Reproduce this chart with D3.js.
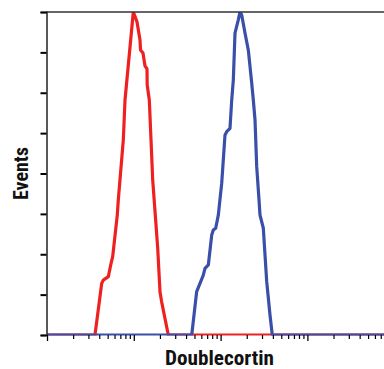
<!DOCTYPE html>
<html><head><meta charset="utf-8">
<script src="https://cdn.jsdelivr.net/npm/d3@7"></script>
<style>html,body{margin:0;padding:0;background:#fff;}svg{display:block;}</style>
</head><body>
<script>
// Fluorescence (log scale) and event counts
const redX = [1, 3.57, 4.27, 4.45, 5.09, 5.42, 5.71, 6.45, 6.63, 7.57, 7.92, 9.87, 10.89, 11.79, 11.95, 12.76, 13.46, 14.19, 14.27, 15.09, 15.79, 16.51, 17.78, 18.85, 20.04, 20.96, 24.98, 10000];
const redY = [0, 0, 25.6, 27.2, 28.9, 34.7, 38.8, 59.4, 66.9, 96.6, 116.4, 160, 155.1, 146.1, 141.2, 139.7, 133.3, 131.8, 123.8, 116.4, 96.6, 76.8, 58, 43.1, 21.3, 16.3, 0, 0];
const blueX = [1, 46.5, 53.0, 57.9, 63.2, 66.1, 72.2, 79.0, 82.4, 87.8, 94.1, 103.0, 112.4, 117.6, 128.3, 134.3, 140.1, 146.5, 159.9, 167.3, 175.0, 191.0, 208.5, 228.3, 238.2, 249.2, 260.6, 277.0, 284.4, 310.4, 339.8, 370.8, 394.0, 10000];
const blueY = [0, 0, 21.5, 25.6, 29.7, 33.0, 34.7, 49.5, 52.0, 52.9, 59.4, 75.2, 99.1, 100.7, 102.4, 116.4, 126.3, 149.5, 156.1, 160, 158.5, 149.6, 141.2, 124.8, 116.4, 106.5, 83.4, 66.9, 59.4, 53.0, 26.4, 9.9, 0, 0];
const majorTicks = [1, 10, 100, 1000, 10000];
const yTicks = [0, 20, 40, 60, 80, 100, 120, 140, 160];
const xTitle = "Doublecortin";
const yTitle = "Events";

const W = 384, H = 369;
const svg = d3.select("body").append("svg").attr("width", W).attr("height", H);

const x = d3.scaleLog().domain([1, 10000]).range([47, 394.2]);
const y = d3.scaleLinear().domain([0, 160]).range([335, 12]);

const minorTicks = [];
for (let d = 1; d < 10000; d *= 10) for (let k = 2; k <= 9; k++) minorTicks.push(d * k);

// clip for plot
svg.append("clipPath").attr("id", "clip").append("rect")
  .attr("x", 47).attr("y", 12).attr("width", W - 47).attr("height", 335.5 - 12);

const line = d3.line().x(d => x(d[0])).y(d => y(d[1]));
const plot = svg.append("g").attr("clip-path", "url(#clip)");
plot.append("path").datum(redX.map((v, i) => [v, redY[i]]))
  .attr("d", line).attr("fill", "none").attr("stroke", "#ee2020")
  .attr("stroke-width", 3.2).attr("stroke-linejoin", "round");
plot.append("path").datum(blueX.map((v, i) => [v, blueY[i]]))
  .attr("d", line).attr("fill", "none").attr("stroke", "#3a4fa8")
  .attr("stroke-width", 3.2).attr("stroke-linejoin", "round");

// top frame line
svg.append("line").attr("x1", 46).attr("x2", W).attr("y1", 12).attr("y2", 12)
  .attr("stroke", "#333").attr("stroke-width", 1.5);

// y axis
const yAxis = svg.append("g").attr("transform", "translate(46.5,0)")
  .call(d3.axisLeft(y).tickValues(yTicks).tickSize(6).tickFormat(""));
yAxis.select(".domain").attr("stroke", "#222").attr("stroke-width", 1.5);
yAxis.selectAll(".tick line").attr("stroke", "#000").attr("stroke-width", 2);

// x axis
const xMaj = svg.append("g").attr("transform", "translate(0,335)")
  .call(d3.axisBottom(x).tickValues(majorTicks).tickSize(6).tickFormat(""));
xMaj.select(".domain").remove();
xMaj.selectAll(".tick line").attr("stroke", "#000").attr("stroke-width", 1.3);
const xMin = svg.append("g").attr("transform", "translate(0,335)")
  .call(d3.axisBottom(x).tickValues(minorTicks).tickSize(4).tickFormat(""));
xMin.select(".domain").remove();
xMin.selectAll(".tick line").attr("stroke", "#000").attr("stroke-width", 1.2);

const font = "'Liberation Sans Narrow', 'Roboto Condensed', 'Arial Narrow', 'Liberation Sans', sans-serif";
svg.append("text").attr("x", 219.5).attr("y", 365).attr("text-anchor", "middle")
  .attr("font-family", font).attr("font-weight", "bold").attr("font-size", 20)
  .attr("textLength", 109).attr("lengthAdjust", "spacingAndGlyphs")
  .attr("fill", "#111").text(xTitle);
svg.append("text").attr("transform", "translate(28,173.5) rotate(-90)")
  .attr("text-anchor", "middle")
  .attr("font-family", font).attr("font-weight", "bold").attr("font-size", 20)
  .attr("textLength", 53).attr("lengthAdjust", "spacingAndGlyphs")
  .attr("fill", "#111").text(yTitle);
</script>
</body></html>
